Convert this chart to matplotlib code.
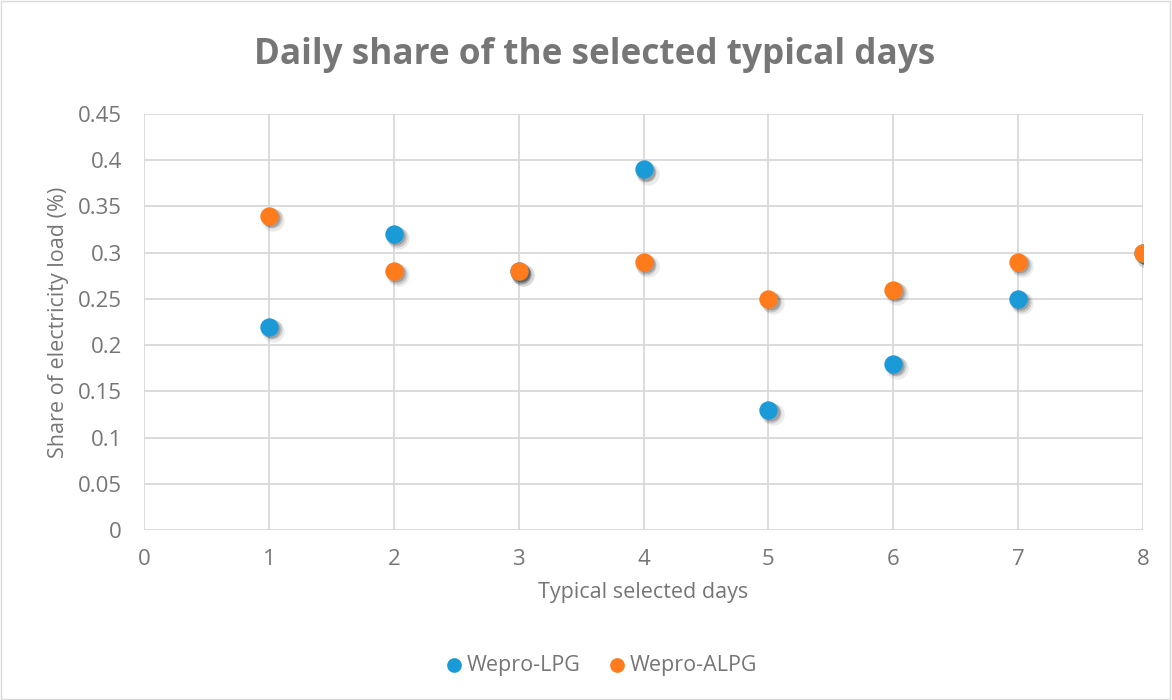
import matplotlib
matplotlib.use("Agg")
import matplotlib.pyplot as plt
from matplotlib.transforms import offset_copy

days = [1, 2, 3, 4, 5, 6, 7, 8]
lpg = [0.22, 0.32, 0.28, 0.39, 0.13, 0.18, 0.25, 0.30]
alpg = [0.34, 0.28, 0.28, 0.29, 0.25, 0.26, 0.29, 0.30]
series_names = ["Wepro-LPG", "Wepro-ALPG"]
colors = ["#1b9ad8", "#ff7b1c"]

TXT = "#767676"
plt.rcParams["font.family"] = ["Open Sans", "DejaVu Sans"]

fig = plt.figure(figsize=(11.72, 7.0), dpi=100)
ax = fig.add_axes([0.1229, 0.2429, 0.8524, 0.5943])

# frame round the whole chart
fig.patches.append(plt.Rectangle((0.001, 0.001), 0.997, 0.997, transform=fig.transFigure,
                                 fill=False, ec="#d9d9d9", lw=1))

for vals, col, name in zip([lpg, alpg], colors, series_names):
    # soft shadow
    for dx, dy, s, a in [(3, -3, 260, 0.08), (2, -2, 210, 0.14), (1.5, -1.5, 170, 0.2)]:
        tr = offset_copy(ax.transData, fig=fig, x=dx, y=dy, units="points")
        ax.scatter(days, vals, s=s, c="#000000", alpha=a, lw=0, transform=tr, zorder=3)
    ax.scatter(days, vals, s=175, c=col, lw=0, zorder=4, label=name)

ax.set_xlim(0, 8)
ax.set_ylim(0, 0.45)
ax.set_xticks(range(0, 9))
ax.set_yticks([i * 0.05 for i in range(10)])
ax.set_yticklabels(["0", "0.05", "0.1", "0.15", "0.2", "0.25", "0.3", "0.35", "0.4", "0.45"])
ax.grid(True, color="#d9d9d9", lw=1.3)
ax.set_axisbelow(True)
for sp in ax.spines.values():
    sp.set_visible(False)
ax.tick_params(length=0, labelsize=16, colors=TXT)
ax.tick_params(axis="x", pad=14)
ax.tick_params(axis="y", pad=16)

ax.set_xlabel("Typical selected days", fontsize=15.5, color=TXT, labelpad=8)
ax.set_ylabel("Share of electricity load (%)", fontsize=15.5, color=TXT, labelpad=6)
fig.text(0.507, 0.921, "Daily share of the selected typical days", ha="center", va="center",
         fontsize=25.3, fontweight="bold", color=TXT)

leg = fig.legend(*ax.get_legend_handles_labels(), loc="center", bbox_to_anchor=(0.513, 0.05),
                 ncol=2, frameon=False, fontsize=15.5, handlelength=0.8, handletextpad=0.2,
                 columnspacing=1.3, markerscale=0.8)
for t in leg.get_texts():
    t.set_color(TXT)

fig.savefig("out.png", dpi=100)
